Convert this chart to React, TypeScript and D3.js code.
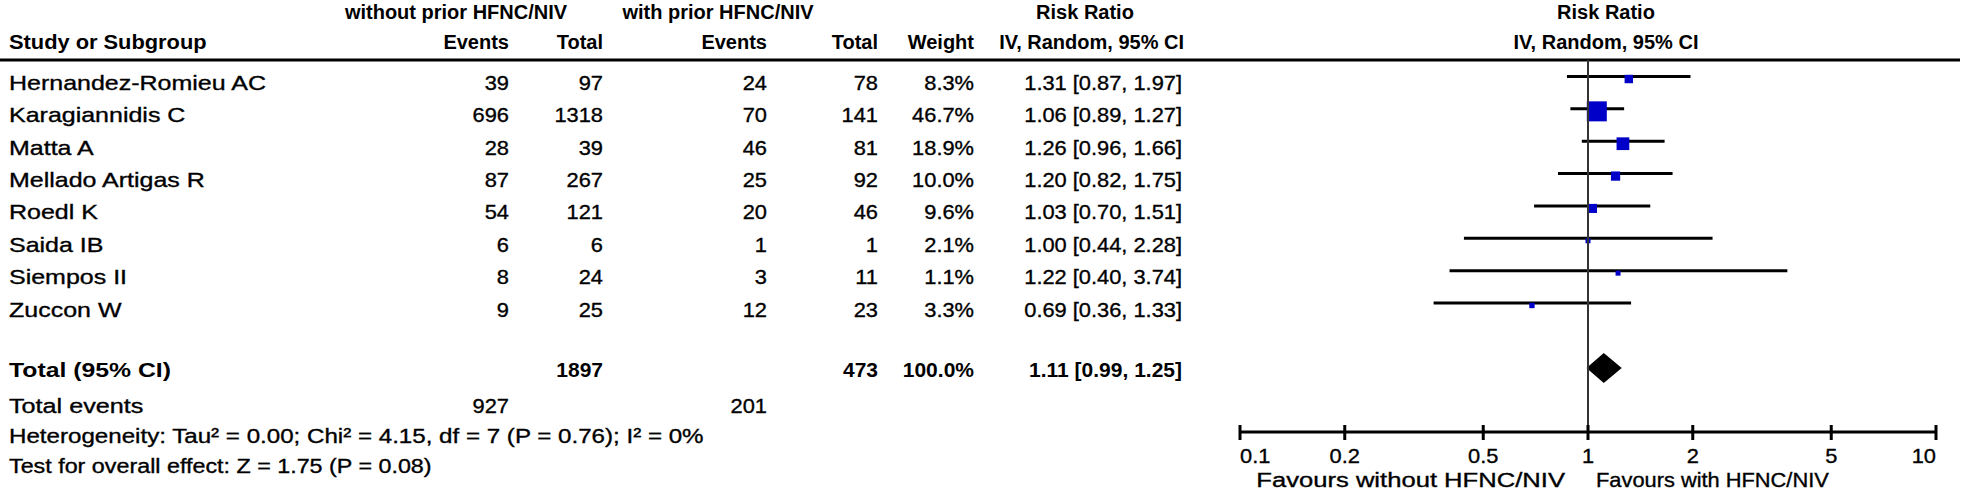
import React from 'react';
import * as d3 from 'd3';

const studies = ['Hernandez-Romieu AC', 'Karagiannidis C', 'Matta A', 'Mellado Artigas R', 'Roedl K', 'Saida IB', 'Siempos II', 'Zuccon W'];
const eventsWithout = [39, 696, 28, 87, 54, 6, 8, 9];
const totalWithout = [97, 1318, 39, 267, 121, 6, 24, 25];
const eventsWith = [24, 70, 46, 25, 20, 1, 3, 12];
const totalWith = [78, 141, 81, 92, 46, 1, 11, 23];
const weights = [8.3, 46.7, 18.9, 10.0, 9.6, 2.1, 1.1, 3.3];
const riskRatio = [1.31, 1.06, 1.26, 1.2, 1.03, 1.0, 1.22, 0.69];
const ciLow = [0.87, 0.89, 0.96, 0.82, 0.7, 0.44, 0.4, 0.36];
const ciHigh = [1.97, 1.27, 1.66, 1.75, 1.51, 2.28, 3.74, 1.33];
const pooled = { rr: 1.11, lo: 0.99, hi: 1.25 };
const sumTotals = { without: 1897, with: 473, weight: '100.0%' };
const sumEvents = { without: 927, with: 201 };
const axisTicks = [0.1, 0.2, 0.5, 1, 2, 5, 10];

const W = 1968;
const H = 492;
const FONT = 'Liberation Sans, Arial, sans-serif';
const FS = 21;

const x = d3.scaleLog().domain([0.1, 10]).range([1240, 1936]);
// text centre of each study row
const rowY = d3.scaleLinear().domain([0, 7]).range([82.5, 309]);
const boxSide = d3.scaleSqrt().domain([0, 46.7]).range([0, 20]);

const col = { left: 9, ev1: 509, tot1: 603, ev2: 767, tot2: 878, wt: 974, ci: 1182 };

const fmt2 = d3.format('.2f');
const ciText = (r, l, h) => `${fmt2(r)} [${fmt2(l)}, ${fmt2(h)}]`;

const T = ({ x, y, anchor = 'start', bold = false, sx = 1, size = FS, children }) => (
  <text
    transform={`translate(${x},${y}) scale(${sx},1)`}
    textAnchor={anchor}
    fontWeight={bold ? 'bold' : 'normal'}
    fontFamily={FONT}
    fontSize={size}
    fill="#000"
    stroke={bold ? 'none' : '#000'}
    strokeWidth={bold ? 0 : 0.35}
  >
    {children}
  </text>
);

const SXR = 1.19; // study names
const SXN = 1.04; // numbers

export default function App() {
  const axisY = 432;
  const totalY = 369;
  return (
    <div style={{ position: 'absolute', left: 0, top: 0 }}>
      <svg width={W} height={H} style={{ display: 'block', background: '#fff' }}>
        {/* header */}
        <T x={456} y={19} anchor="middle" bold size={20}>without prior HFNC/NIV</T>
        <T x={718} y={19} anchor="middle" bold size={20}>with prior HFNC/NIV</T>
        <T x={1085} y={19} anchor="middle" bold size={20}>Risk Ratio</T>
        <T x={1606} y={19} anchor="middle" bold size={20}>Risk Ratio</T>
        <T x={col.left} y={49} bold sx={1.04}>Study or Subgroup</T>
        <T x={col.ev1} y={49} anchor="end" bold size={20}>Events</T>
        <T x={col.tot1} y={49} anchor="end" bold size={20}>Total</T>
        <T x={col.ev2} y={49} anchor="end" bold size={20}>Events</T>
        <T x={col.tot2} y={49} anchor="end" bold size={20}>Total</T>
        <T x={col.wt} y={49} anchor="end" bold size={20}>Weight</T>
        <T x={col.ci + 2} y={49} anchor="end" bold size={20}>IV, Random, 95% CI</T>
        <T x={1606} y={49} anchor="middle" bold size={20}>IV, Random, 95% CI</T>
        <line x1={0} x2={1960} y1={60} y2={60} stroke="#000" strokeWidth={3} />

        {/* study rows */}
        {studies.map((s, i) => {
          const ty = rowY(i);
          const by = ty + 7.5;
          const ly = ty - 6;
          const side = Math.max(5, boxSide(weights[i]));
          return (
            <g key={s}>
              <T x={col.left} y={by} sx={SXR}>{s}</T>
              <T x={col.ev1} y={by} anchor="end" sx={SXN}>{eventsWithout[i]}</T>
              <T x={col.tot1} y={by} anchor="end" sx={SXN}>{totalWithout[i]}</T>
              <T x={col.ev2} y={by} anchor="end" sx={SXN}>{eventsWith[i]}</T>
              <T x={col.tot2} y={by} anchor="end" sx={SXN}>{totalWith[i]}</T>
              <T x={col.wt} y={by} anchor="end" sx={SXN}>{weights[i].toFixed(1)}%</T>
              <T x={col.ci} y={by} anchor="end" sx={SXN}>{ciText(riskRatio[i], ciLow[i], ciHigh[i])}</T>
              <line x1={x(ciLow[i])} x2={x(ciHigh[i])} y1={ly} y2={ly} stroke="#000" strokeWidth={3} />
              <rect x={x(riskRatio[i]) - side / 2} y={ly - side / 2 + 2.5} width={side} height={side} fill="#0000c8" />
            </g>
          );
        })}

        {/* totals */}
        <T x={col.left} y={totalY + 7.5} bold sx={1.18}>Total (95% CI)</T>
        <T x={col.tot1} y={totalY + 7.5} anchor="end" bold>{sumTotals.without}</T>
        <T x={col.tot2} y={totalY + 7.5} anchor="end" bold>{sumTotals.with}</T>
        <T x={col.wt} y={totalY + 7.5} anchor="end" bold>{sumTotals.weight}</T>
        <T x={col.ci} y={totalY + 7.5} anchor="end" bold>{ciText(pooled.rr, pooled.lo, pooled.hi)}</T>
        <path
          d={`M${x(pooled.lo)},${totalY - 1} L${x(pooled.rr)},${totalY - 16} L${x(pooled.hi)},${totalY - 1} L${x(pooled.rr)},${totalY + 14} Z`}
          fill="#000"
        />
        <T x={col.left} y={413} sx={1.2}>Total events</T>
        <T x={col.ev1} y={413} anchor="end" sx={SXN}>{sumEvents.without}</T>
        <T x={col.ev2} y={413} anchor="end" sx={SXN}>{sumEvents.with}</T>
        <T x={col.left} y={443} sx={1.15}>Heterogeneity: Tau² = 0.00; Chi² = 4.15, df = 7 (P = 0.76); I² = 0%</T>
        <T x={col.left} y={473} sx={1.11}>Test for overall effect: Z = 1.75 (P = 0.08)</T>

        {/* null line */}
        <line x1={x(1)} x2={x(1)} y1={60} y2={axisY} stroke="#333" strokeWidth={2} />

        {/* axis */}
        <line x1={x(0.1)} x2={x(10)} y1={axisY} y2={axisY} stroke="#000" strokeWidth={3} />
        {axisTicks.map((t, i) => {
          const anchor = i === 0 ? 'start' : i === axisTicks.length - 1 ? 'end' : 'middle';
          return (
            <g key={t}>
              <line x1={x(t)} x2={x(t)} y1={425} y2={440} stroke="#000" strokeWidth={3} />
              <T x={x(t)} y={463} anchor={anchor} sx={SXN}>{String(t)}</T>
            </g>
          );
        })}
        <T x={x(1) - 23} y={487} anchor="end" sx={1.22}>Favours without HFNC/NIV</T>
        <T x={x(1) + 8} y={487} sx={1.04}>Favours with HFNC/NIV</T>
      </svg>
    </div>
  );
}
